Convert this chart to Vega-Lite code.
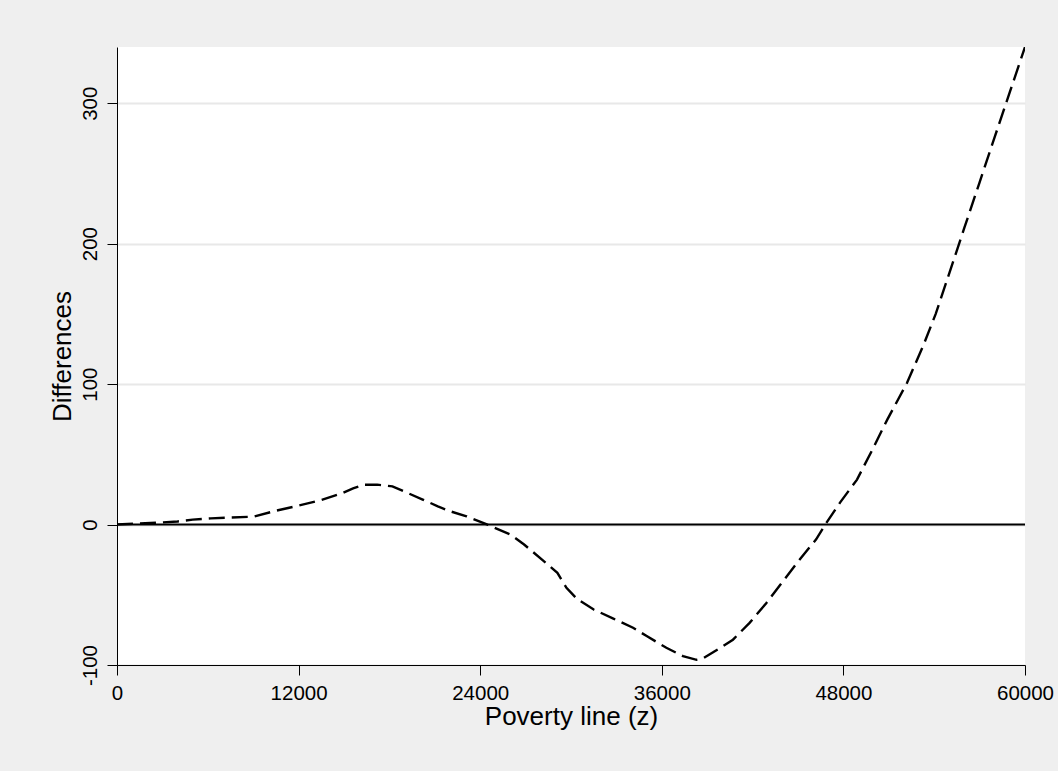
{
  "$schema": "https://vega.github.io/schema/vega-lite/v6.json",
  "autosize": {"type": "none"},
  "width": 908,
  "height": 618,
  "padding": {"left": 117, "top": 47, "right": 33, "bottom": 106},
  "background": "#efefef",
  "config": {
    "view": {"fill": "white", "stroke": null},
    "font": "Liberation Sans",
    "axis": {
      "labelFont": "Liberation Sans",
      "titleFont": "Liberation Sans",
      "labelColor": "black",
      "titleColor": "black",
      "labelFontSize": 20.5,
      "titleFontSize": 26,
      "titleFontWeight": "normal",
      "domainColor": "black",
      "domainWidth": 1,
      "tickColor": "black",
      "tickWidth": 1,
      "tickSize": 10,
      "labelFlush": false,
      "labelOverlap": false
    }
  },
  "data": {
    "values": [
      {"z": 0, "d": 0},
      {"z": 1500, "d": 0.8},
      {"z": 3000, "d": 1.5},
      {"z": 4000, "d": 2.2},
      {"z": 5000, "d": 3.5},
      {"z": 6200, "d": 4.4},
      {"z": 7500, "d": 5.0},
      {"z": 9000, "d": 5.6},
      {"z": 10500, "d": 9.8},
      {"z": 12000, "d": 13.5},
      {"z": 13500, "d": 17.5},
      {"z": 14800, "d": 22},
      {"z": 15600, "d": 25.8},
      {"z": 16300, "d": 28.3},
      {"z": 17200, "d": 28.4},
      {"z": 18200, "d": 27.2},
      {"z": 19200, "d": 22.5},
      {"z": 20200, "d": 17.8},
      {"z": 21200, "d": 13},
      {"z": 22000, "d": 9.5},
      {"z": 23100, "d": 5.9},
      {"z": 24400, "d": 0.3},
      {"z": 25000, "d": -2.5},
      {"z": 26000, "d": -7.1},
      {"z": 26900, "d": -14.2},
      {"z": 28200, "d": -26},
      {"z": 29100, "d": -34.4},
      {"z": 29700, "d": -45},
      {"z": 30400, "d": -53},
      {"z": 31500, "d": -60.5},
      {"z": 32800, "d": -67},
      {"z": 34100, "d": -73.5},
      {"z": 35000, "d": -79.4},
      {"z": 36300, "d": -87.7},
      {"z": 37400, "d": -93.7},
      {"z": 38300, "d": -96.3},
      {"z": 38700, "d": -95.5},
      {"z": 39800, "d": -88.2},
      {"z": 40700, "d": -82},
      {"z": 41800, "d": -70},
      {"z": 42900, "d": -56},
      {"z": 44000, "d": -40.5},
      {"z": 45100, "d": -25},
      {"z": 46200, "d": -10.5},
      {"z": 46800, "d": 0},
      {"z": 47800, "d": 16},
      {"z": 48900, "d": 32},
      {"z": 49900, "d": 53},
      {"z": 50900, "d": 74.7},
      {"z": 52200, "d": 100.8},
      {"z": 53300, "d": 128},
      {"z": 54100, "d": 150},
      {"z": 55000, "d": 179},
      {"z": 56000, "d": 211.5},
      {"z": 57000, "d": 243.7},
      {"z": 58000, "d": 276},
      {"z": 59000, "d": 308},
      {"z": 60000, "d": 340}
    ]
  },
  "layer": [
    {
      "mark": {"type": "line", "color": "black", "strokeWidth": 2.4, "strokeDash": [16, 7], "clip": true},
      "encoding": {
        "x": {
          "field": "z", "type": "quantitative",
          "scale": {"domain": [0, 60000], "nice": false, "zero": false},
          "axis": {
            "title": "Poverty line (z)",
            "values": [0, 12000, 24000, 36000, 48000, 60000],
            "labelExpr": "'' + datum.value",
            "grid": false,
            "labelBaseline": "top",
            "labelPadding": 8,
            "titlePadding": 0
          }
        },
        "y": {
          "field": "d", "type": "quantitative",
          "scale": {"domain": [-100, 340], "nice": false, "zero": false},
          "axis": {
            "title": "Differences",
            "values": [-100, 0, 100, 200, 300],
            "labelExpr": "'' + datum.value",
            "grid": true,
            "gridColor": "#e8e8e8",
            "gridWidth": 2,
            "labelAngle": -90,
            "labelAlign": "center",
            "labelBaseline": "alphabetic",
            "labelPadding": 11,
            "titleBaseline": "alphabetic",
            "titlePadding": 10
          }
        }
      }
    },
    {
      "data": {"values": [{"d": 0}]},
      "mark": {"type": "rule", "color": "black", "strokeWidth": 2},
      "encoding": {
        "y": {"field": "d", "type": "quantitative"}
      }
    }
  ]
}
